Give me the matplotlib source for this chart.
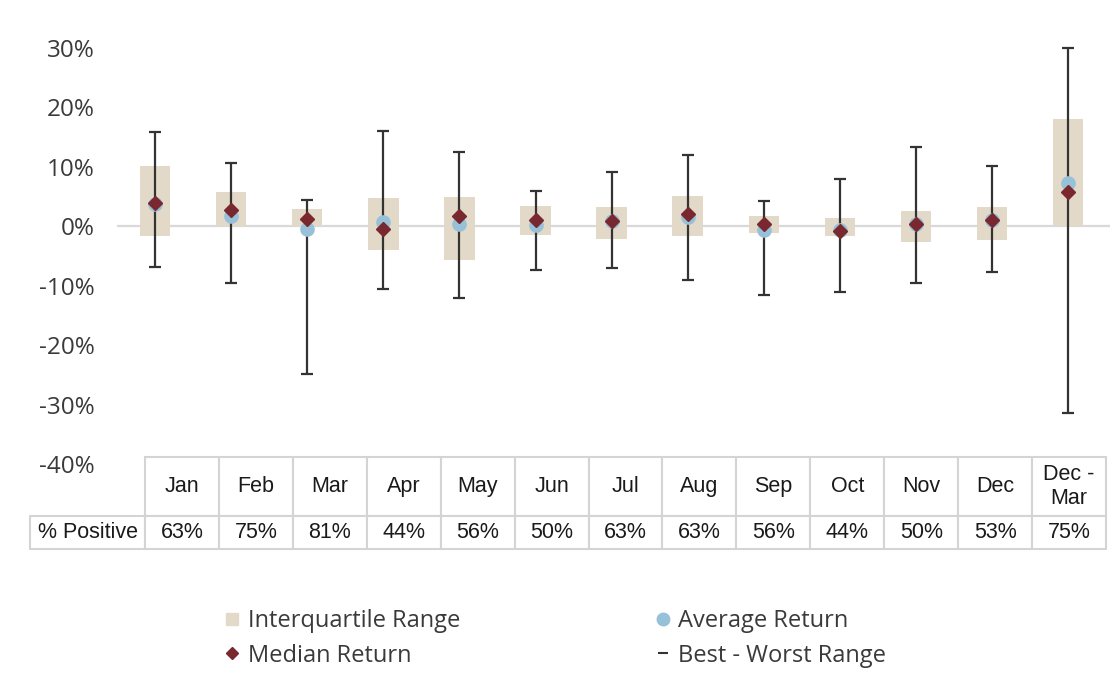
import matplotlib.pyplot as plt
from matplotlib.lines import Line2D
import numpy as np

# monthly return stats (%)
months = ['Jan', 'Feb', 'Mar', 'Apr', 'May', 'Jun', 'Jul', 'Aug', 'Sep', 'Oct', 'Nov', 'Dec', 'Dec -\nMar']
best = [15.8, 10.6, 4.4, 16.0, 12.5, 6.0, 9.2, 11.9, 4.3, 8.0, 13.4, 10.1, 30.0]
worst = [-6.8, -9.6, -24.9, -10.6, -12.1, -7.4, -7.1, -9.1, -11.6, -11.0, -9.6, -7.7, -31.4]
q3 = [10.2, 5.7, 2.9, 4.7, 4.9, 3.4, 3.3, 5.0, 1.8, 1.3, 2.5, 3.3, 18.1]
q1 = [-1.6, 0.0, 0.0, -4.0, -5.7, -1.4, -2.1, -1.6, -1.1, -1.7, -2.7, -2.4, 0.0]
median = [3.9, 2.7, 1.2, -0.4, 1.8, 1.0, 0.8, 2.0, 0.45, -0.8, 0.45, 1.0, 5.8]
average = [3.7, 1.8, -0.4, 0.7, 0.3, 0.2, 0.8, 1.5, -0.6, -0.7, 0.4, 1.1, 7.3]
pct_positive = ['63%', '75%', '81%', '44%', '56%', '50%', '63%', '63%', '56%', '44%', '50%', '53%', '75%']
yticks = [-40, -30, -20, -10, 0, 10, 20, 30]

beige = '#e3d9c9'
maroon = '#7a2830'
blue = '#97c1d8'
dark = '#333333'
grid = '#d9d9d9'
txt = '#3a3a3a'

W, H = 1114, 678
fig = plt.figure(figsize=(W / 100, H / 100), dpi=100)

ax = fig.add_axes([117 / W, 1 - 464 / H, (1110 - 117) / W, (464 - 36) / H])
x = np.arange(len(months))
med = np.array(median)

ax.axhline(0, color=grid, lw=1.6, zorder=1)
ax.bar(x, np.array(q3) - np.array(q1), bottom=q1, width=0.4, color=beige, zorder=2)
ax.errorbar(x, med, yerr=[med - np.array(worst), np.array(best) - med], fmt='none',
            ecolor=dark, elinewidth=1.6, capsize=4.5, capthick=1.6, zorder=3)
ax.plot(x, average, 'o', color=blue, ms=9.5, zorder=4)
ax.plot(x, median, 'D', color=maroon, ms=7.5, zorder=5)

ax.set_xlim(-0.5, 12.55)
ax.set_ylim(-40, 32)
ax.set_xticks([])
ax.set_yticks(yticks)
ax.set_yticklabels([f'{v}%' for v in yticks], fontsize=17.5, color=txt, fontfamily='Open Sans')
ax.tick_params(axis='y', length=0, pad=16)
for s in ax.spines.values():
    s.set_visible(False)

# table under the chart
tax = fig.add_axes([30 / W, 1 - 549 / H, (1106 - 30) / W, (549 - 457) / H])
tax.axis('off')
label_w = 115
cell_w = (1106 - 145) / 13
cells = [[''] + months, ['% Positive'] + pct_positive]
tbl = tax.table(cellText=cells, cellLoc='center', bbox=[0, 0, 1, 1],
                colWidths=[label_w] + [cell_w] * 13)
tbl.auto_set_font_size(False)
for (r, c), cell in tbl.get_celld().items():
    cell.set_height(59 if r == 0 else 33)
    cell.set_edgecolor('#d4d4d4')
    cell.set_linewidth(1.5)
    cell.get_text().set_fontsize(15.5)
    cell.get_text().set_fontfamily('Liberation Sans')
    cell.get_text().set_color('#1a1a1a')
    if r == 0 and c == 0:
        cell.visible_edges = ''

handles = [
    Line2D([], [], marker='s', ls='none', color=beige, ms=9),
    Line2D([], [], marker='D', ls='none', color=maroon, ms=6),
    Line2D([], [], marker='o', ls='none', color=blue, ms=9),
    Line2D([], [], marker='_', ls='none', color=dark, ms=7, mew=1.5),
]
labels = ['Interquartile Range', 'Median Return', 'Average Return', 'Best - Worst Range']
fig.legend(handles, labels, loc='upper left', bbox_to_anchor=(224 / W, 1 - 609 / H),
           ncol=2, frameon=False, borderpad=0, borderaxespad=0, handlelength=0.7,
           handletextpad=0.3, columnspacing=8.25, labelspacing=0.45,
           prop={'family': 'Open Sans', 'size': 17}, labelcolor=txt)

fig.savefig('out.png', dpi=100)
